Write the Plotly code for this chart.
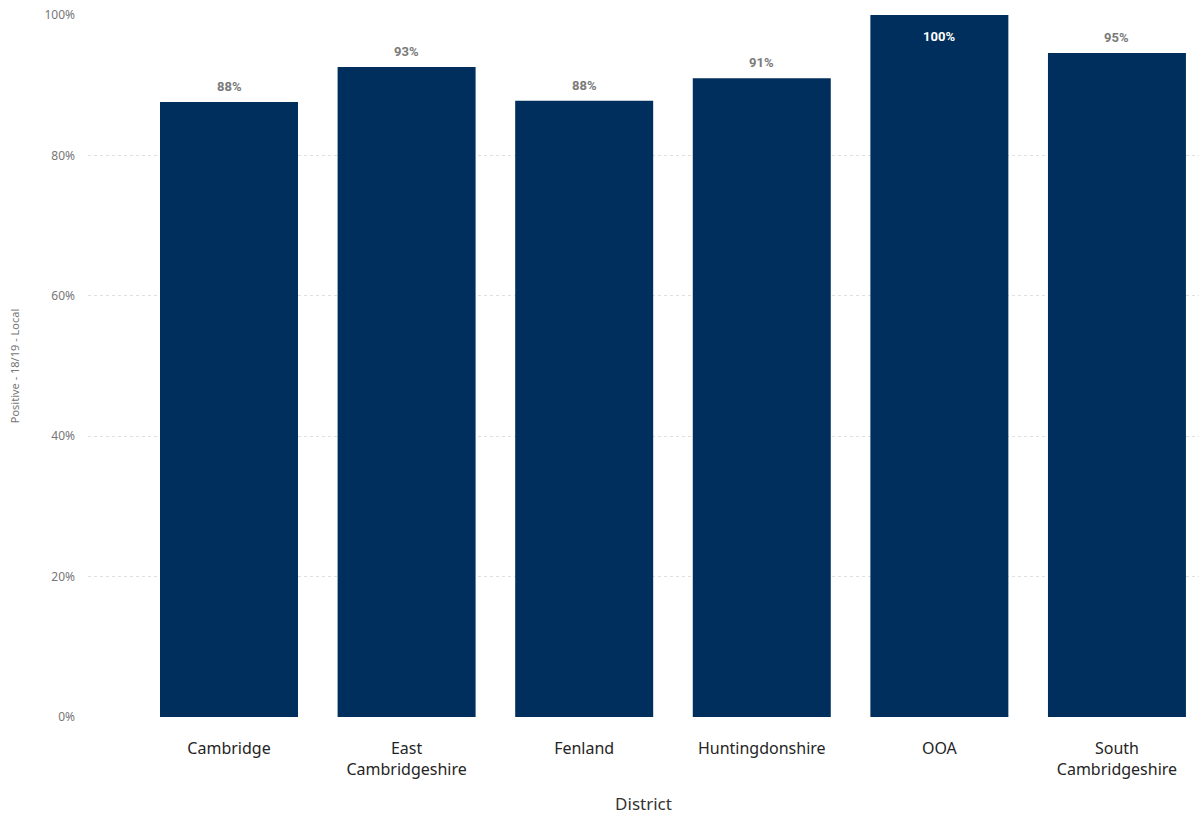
import plotly.graph_objects as go

# Share of positive responses by district (18/19, local)
districts = ["Cambridge", "East Cambridgeshire", "Fenland", "Huntingdonshire", "OOA", "South Cambridgeshire"]
tick_text = ["Cambridge", "East<br>Cambridgeshire", "Fenland", "Huntingdonshire", "OOA", "South<br>Cambridgeshire"]
positive = [0.876, 0.926, 0.878, 0.910, 1.0, 0.946]
labels = ["88%", "93%", "88%", "91%", "100%", "95%"]

bar_color = "#012f5d"

fig = go.Figure()
fig.add_trace(go.Bar(
    x=districts,
    y=positive,
    marker=dict(color=bar_color, line=dict(width=0)),
    width=0.777,
    hoverinfo="x+y",
))

# data labels: above the bar, or inside in white when the bar hits the top
for d, v, lab in zip(districts, positive, labels):
    inside = v >= 0.99
    fig.add_annotation(
        x=d, y=v, text=lab, showarrow=False,
        yanchor="top" if inside else "bottom",
        yshift=-12 if inside else 6,
        font=dict(family="Roboto", size=13, color="white" if inside else "#7a7a7a", weight="bold"),
    )

fig.update_layout(
    width=1199, height=816,
    margin=dict(l=88, r=0, t=15, b=99),
    plot_bgcolor="white", paper_bgcolor="white",
    showlegend=False,
    font=dict(family="Noto Sans", color="#333333"),
    bargap=0.2,
)
fig.update_xaxes(
    range=[-0.794, 5.462],
    automargin=False,
    tickmode="array", tickvals=districts, ticktext=tick_text,
    tickfont=dict(size=16, color="#252525"),
    ticklabelstandoff=20,
    showgrid=False, showline=False, ticks="",
    title=dict(text="District", font=dict(size=17, color="#333333"), standoff=19),
)
fig.update_yaxes(
    range=[0, 1],
    automargin=False,
    ticklabeloverflow="allow",
    tickvals=[0, 0.2, 0.4, 0.6, 0.8, 1.0],
    tickformat=".0%",
    tickfont=dict(size=12, color="#777777"),
    ticklabelstandoff=12,
    showgrid=True, gridcolor="#e0e0e0", griddash="dot", gridwidth=1,
    zeroline=False, showline=False, ticks="",
    title=dict(text="Positive - 18/19 - Local", font=dict(size=11, color="#777777"), standoff=22),
)

# drop the default 8px page margin so the figure fills the window exactly
fig.write_html("out.html", config={"displayModeBar": False},
               post_script="document.body.style.margin = '0';")
